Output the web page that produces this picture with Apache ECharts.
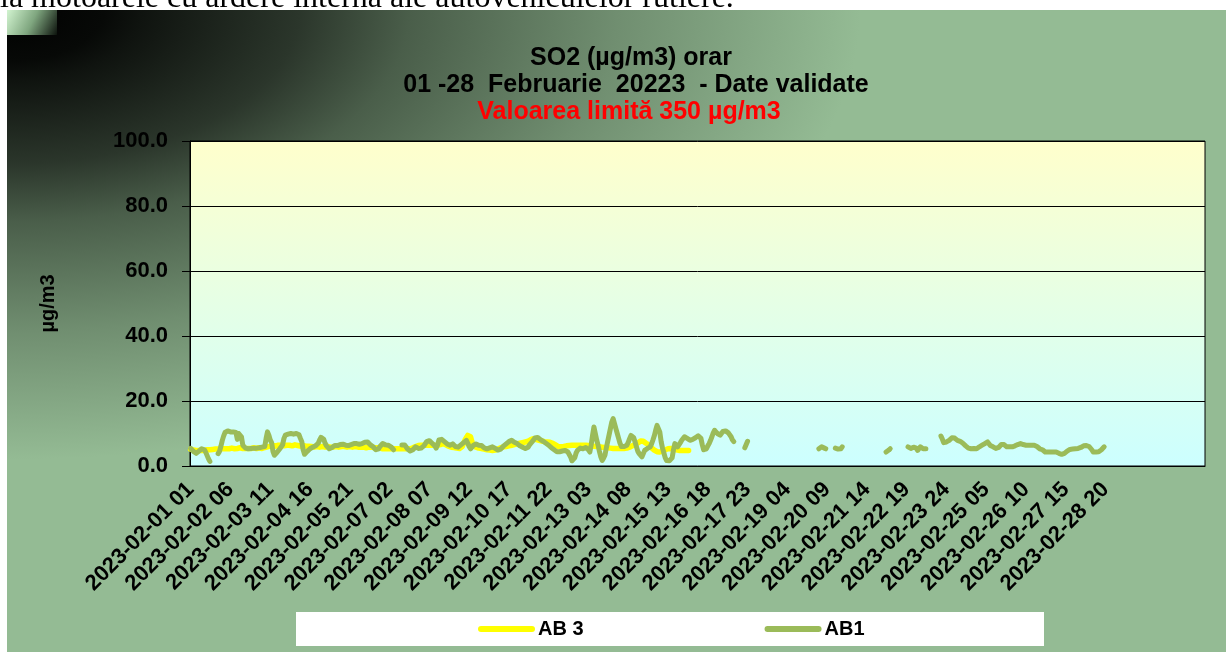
<!DOCTYPE html>
<html>
<head>
<meta charset="utf-8">
<script src="https://cdn.jsdelivr.net/npm/echarts@6/dist/echarts.min.js"></script>
<style>
html,body{margin:0;padding:0;background:#fff;}
#chart{width:1226px;height:652px;}
</style>
</head>
<body>
<div id="chart"></div>
<script>
// categorii orare 01..24 pentru 1-28 februarie 2023
var zile = 28;
var ore = 24;
var categorii = [];
for (var d = 1; d <= zile; d++) {
    for (var h = 1; h <= ore; h++) {
        categorii.push('2023-02-' + (d < 10 ? '0' + d : d) + ' ' + (h < 10 ? '0' + h : h));
    }
}
// randuri goale din foaia excel, dupa 28 februarie
for (var k = 0; k < 68; k++) categorii.push('');

var numeSerii = ['AB 3', 'AB1'];
var yTicks = [0, 20, 40, 60, 80, 100];

// AB 3 - date pana pe 16 feb
var ab3 = [
    5.2,5.0,4.9,4.8,4.8,4.7,4.8,4.9,4.8,4.7,4.8,4.9,5.0,5.1,5.0,5.0,5.1,5.2,5.2,5.3,5.2,5.3,5.3,5.2,
    5.3,5.4,5.3,5.2,5.3,5.4,5.5,5.4,5.3,5.3,5.4,5.5,5.6,5.5,5.4,5.3,5.4,5.5,5.4,5.3,5.4,5.5,5.6,5.5,
    5.4,5.5,5.6,5.5,5.4,5.5,5.7,5.8,5.9,6.0,6.1,6.2,6.3,6.2,6.1,6.3,6.4,6.5,6.4,6.3,6.2,6.3,6.4,6.5,
    6.4,6.3,6.2,6.4,6.5,6.4,6.3,6.2,6.1,6.2,6.3,6.2,6.1,6.0,6.1,6.2,6.0,5.9,5.8,5.9,6.0,5.9,5.8,5.9,
    6.0,5.9,5.8,5.9,6.0,5.9,5.8,5.7,5.8,5.9,6.0,5.9,5.8,5.9,6.0,6.1,6.0,5.9,5.8,5.9,6.0,5.9,5.8,5.9,
    6.0,5.9,5.8,5.7,5.8,5.9,5.8,5.7,5.6,5.7,5.8,5.9,5.8,5.7,5.6,5.5,5.6,5.7,5.5,5.4,5.3,5.4,5.3,5.2,
    5.3,5.2,5.3,5.4,5.3,5.2,5.3,5.4,5.3,5.2,5.3,5.4,5.3,5.2,5.3,5.4,5.3,5.4,5.6,5.8,6.0,6.2,6.3,6.4,
    6.4,6.3,6.4,6.5,6.4,6.3,6.4,6.5,6.4,6.3,6.4,6.5,6.4,6.5,6.6,6.8,6.9,6.7,6.5,6.3,6.1,5.9,5.8,5.8,
    5.7,5.6,5.5,5.4,5.4,5.5,6.0,7.0,8.0,8.6,9.4,9.9,9.0,7.5,6.4,6.0,5.8,5.6,5.5,5.4,5.4,5.3,5.2,5.1,
    5.0,4.9,4.9,4.8,4.8,4.8,4.9,5.0,5.2,5.4,5.6,5.8,5.9,5.9,6.0,6.1,6.2,6.3,6.4,6.5,6.6,6.7,6.8,6.9,
    7.0,7.1,7.2,7.3,7.4,7.4,7.6,7.8,8.1,8.4,8.4,8.3,8.1,8.0,7.9,7.8,7.7,7.6,7.5,7.4,7.4,7.4,7.3,7.2,
    7.0,6.8,6.5,6.2,6.0,5.9,5.9,6.0,6.0,6.1,6.2,6.2,6.3,6.3,6.4,6.4,6.4,6.4,6.4,6.4,6.4,6.4,6.4,6.4,
    6.4,6.3,6.3,6.2,6.2,6.1,6.1,6.0,6.0,5.9,5.9,5.8,5.8,5.7,5.7,5.6,5.6,5.5,5.5,5.4,5.4,5.4,5.4,5.4,
    5.4,5.4,5.4,5.4,5.4,5.4,5.5,5.6,5.8,6.0,6.2,6.4,6.6,6.8,7.1,7.4,7.7,7.9,7.6,7.3,7.0,6.9,6.5,6.0,
    5.6,5.2,4.9,4.6,4.4,4.3,4.3,4.4,4.6,4.8,5.0,5.2,5.3,5.4,5.4,5.3,5.2,5.1,5.0,4.9,4.8,4.8,4.8,4.8,
    4.8,4.8,4.8,4.8
];

// AB1 - cate un rand pe zi
var ab1 = [
    5.4,5.0,4.5,4.1,3.9,4.2,4.6,5.0,5.3,5.4,5.0,4.2,3.2,2.2,1.4,null,null,null,null,null,3.8,4.5,6.0,7.8,
    9.2,10.3,10.6,10.8,10.6,10.5,10.4,10.5,10.6,10.3,8.2,10.0,10.5,9.0,6.4,5.8,5.5,5.4,5.3,5.3,5.4,5.5,5.5,5.5,
    5.5,5.6,5.6,5.7,5.8,5.9,6.0,8.5,10.5,9.5,8.0,7.2,4.5,3.3,3.6,4.2,4.8,5.3,5.5,6.5,8.5,9.5,9.6,9.8,
    9.8,10.0,9.9,9.8,9.9,10.0,10.0,9.6,8.5,7.5,5.0,3.6,3.9,4.5,5.0,5.3,5.6,5.8,6.0,6.2,6.4,7.0,8.0,8.8,
    9.0,8.2,7.0,6.2,5.6,5.3,5.4,5.7,6.0,6.3,6.4,6.3,6.5,6.6,6.7,6.7,6.5,6.4,6.3,6.3,6.4,6.6,6.8,6.9,
    6.9,6.9,6.8,6.7,6.7,6.9,7.1,7.3,7.4,7.4,7.0,6.5,6.1,5.9,5.4,5.0,4.8,5.3,6.0,6.6,6.9,6.7,6.5,6.4,
    6.4,6.0,5.9,5.6,5.0,null,null,null,null,null,6.5,6.9,6.5,6.0,5.3,4.8,4.6,4.6,5.0,5.6,5.9,5.7,5.4,5.3,
    5.5,5.8,6.2,6.4,7.5,8.1,7.8,7.2,7.0,6.9,6.2,5.5,6.5,8.0,8.4,8.2,7.9,7.5,7.2,6.8,6.5,6.4,6.5,6.8,
    6.5,6.0,5.6,5.8,6.1,6.5,6.9,7.2,7.6,7.9,7.0,6.0,5.3,5.8,6.3,6.9,6.8,6.6,6.4,6.5,6.3,6.0,5.6,5.3,
    5.3,5.4,5.6,5.8,5.9,5.7,5.4,5.1,4.9,4.8,5.2,5.7,6.1,6.4,6.8,7.2,7.5,7.8,7.9,7.6,7.3,7.1,6.9,6.5,
    6.2,5.9,5.8,5.6,5.4,5.3,5.8,6.5,7.1,7.5,8.0,8.6,9.0,8.8,8.4,8.1,7.9,7.6,7.3,7.0,6.8,6.4,6.0,5.6,
    5.3,5.0,4.7,4.4,4.3,4.4,4.5,4.6,4.7,4.8,4.6,4.3,4.0,2.8,1.6,1.2,2.5,4.0,4.8,5.3,5.5,5.4,5.3,5.5,
    5.7,5.9,5.0,4.3,6.5,9.5,12.0,10.0,8.0,6.4,4.5,2.8,1.7,2.4,3.3,5.5,7.5,9.5,11.5,13.5,14.6,13.0,11.5,10.0,
    8.5,7.0,6.0,5.9,6.0,6.2,6.4,7.3,8.4,9.4,10.0,8.7,7.4,5.9,4.5,3.8,3.2,2.8,3.8,4.8,5.1,5.4,5.7,5.9,
    6.8,8.0,9.3,11.0,12.5,13.1,10.5,7.5,5.5,4.0,2.5,1.7,1.5,1.6,1.7,2.5,5.0,6.9,6.4,5.9,6.5,7.2,7.9,8.5,
    9.0,8.8,8.5,8.1,7.9,8.0,8.2,8.4,8.7,9.0,9.3,9.5,8.5,6.5,5.0,4.5,5.3,6.2,6.9,7.9,9.0,10.2,11.0,10.5,
    10.0,9.7,9.5,10.0,10.6,11.0,10.8,10.5,10.2,10.0,9.0,8.0,7.5,null,null,null,null,null,null,null,5.6,6.6,7.6,null,
    null,null,null,null,null,null,null,null,null,null,null,null,null,null,null,null,null,null,null,null,null,null,null,null,
    null,null,null,null,null,null,null,null,null,null,null,null,null,null,null,null,null,null,null,null,null,null,null,null,
    null,null,5.3,5.6,5.9,5.8,5.5,5.3,null,null,null,null,null,null,5.5,5.9,5.2,4.8,5.3,5.9,null,null,null,null,
    null,null,null,null,null,null,null,null,null,null,null,null,null,null,null,null,null,null,null,null,null,null,null,null,
    null,null,null,4.3,4.6,4.9,5.3,null,null,null,null,null,null,null,null,null,null,null,null,5.9,5.7,5.4,5.3,5.8,
    6.4,5.5,4.8,5.2,5.9,5.6,5.3,5.4,5.3,null,null,null,null,null,null,null,null,null,null,9.2,8.3,7.2,6.9,7.4,
    7.6,7.9,8.3,8.7,8.9,8.6,8.2,7.9,7.7,7.6,7.3,7.0,6.6,6.2,5.8,5.5,5.3,5.3,5.3,5.4,5.3,5.3,5.6,5.9,
    6.2,6.4,6.6,6.9,7.2,7.4,6.9,6.3,5.7,5.9,5.6,5.4,5.3,5.7,6.2,6.6,6.9,6.6,6.2,5.9,5.9,5.9,5.9,5.9,
    6.0,6.2,6.4,6.6,6.8,6.9,6.8,6.6,6.5,6.4,6.4,6.4,6.4,6.4,6.4,6.4,6.4,6.0,5.6,5.3,5.3,5.0,4.6,4.3,
    4.3,4.3,4.3,4.3,4.3,4.3,4.3,4.3,4.1,3.9,3.7,3.6,3.6,3.9,4.2,4.6,5.0,5.1,5.1,5.2,5.2,5.3,5.3,5.4,
    5.5,5.7,6.0,6.2,6.4,6.3,6.2,6.0,5.9,5.0,4.3,4.2,4.3,4.3,4.4,4.6,5.0,5.5,5.9,null,null,null,null,null
];

var font = '"Liberation Sans", Arial, sans-serif';

var chart = echarts.init(document.getElementById('chart'));
chart.setOption({
    animation: false,
    backgroundColor: '#fff',
    graphic: [
        // randul de text din document, taiat sus
        {
            type: 'text', x: 0, y: -1, z: -30, silent: true,
            style: {
                text: 'la motoarele cu ardere internă ale autovehiculelor rutiere.',
                font: '32px "Liberation Serif", "Times New Roman", serif',
                fill: '#000', verticalAlign: 'middle'
            }
        },
        // fundalul graficului (gradient din colt)
        {
            type: 'rect', x: 7, y: 10, scaleY: 642 / 1219, z: -20, silent: true,
            shape: { x: 0, y: 0, width: 1219, height: 1219 },
            style: {
                fill: new echarts.graphic.RadialGradient(0, 0, 1, [
                    { offset: 0, color: '#000000' },
                    { offset: 0.08, color: '#070907' },
                    { offset: 0.11, color: '#0f130f' },
                    { offset: 0.24, color: '#2b362b' },
                    { offset: 0.33, color: '#4a5e4a' },
                    { offset: 0.5, color: '#708e70' },
                    { offset: 0.7, color: '#94bb94' },
                    { offset: 1, color: '#94bb94' }
                ])
            }
        },
        {
            type: 'rect', x: 7, y: 10, z: -19, silent: true,
            shape: { x: 0, y: 0, width: 50, height: 25 },
            style: {
                fill: new echarts.graphic.LinearGradient(0, 0, 1, 1, [
                    { offset: 0, color: '#d2f4d0' },
                    { offset: 0.5, color: '#7fa67f' },
                    { offset: 1, color: '#0c120c' }
                ])
            }
        },
        {
            type: 'text', x: 631, y: 58, silent: true,
            style: { text: 'SO2 (µg/m3) orar', fontSize: 25, fontWeight: 'bold', fontFamily: font, fill: '#000', align: 'center', verticalAlign: 'middle' }
        },
        {
            type: 'text', x: 636, y: 85, silent: true,
            style: { text: '01 -28  Februarie  20223  - Date validate', fontSize: 25, fontWeight: 'bold', fontFamily: font, fill: '#000', align: 'center', verticalAlign: 'middle' }
        },
        {
            type: 'text', x: 629, y: 112, silent: true,
            style: { text: 'Valoarea limită 350 µg/m3', fontSize: 25, fontWeight: 'bold', fontFamily: font, fill: '#ff0000', align: 'center', verticalAlign: 'middle' }
        },
        // caseta alba a legendei
        {
            type: 'rect', x: 296, y: 612, z: -5, silent: true,
            shape: { width: 748, height: 34 },
            style: { fill: '#fff' }
        }
    ],
    legend: {
        data: numeSerii,
        left: 478,
        top: 619,
        padding: 0,
        itemWidth: 57,
        itemHeight: 6,
        itemGap: 181,
        icon: 'path://M3 0H54A3 3 0 0 1 54 6H3A3 3 0 0 1 3 0Z',
        itemStyle: { borderWidth: 0 },
        textStyle: { fontSize: 20, fontWeight: 'bold', color: '#000', fontFamily: font, padding: [0, 0, 0, -2] }
    },
    grid: {
        left: 190,
        top: 141,
        right: 21,
        bottom: 186,
        show: true,
        borderColor: '#000',
        borderWidth: 1,
        backgroundColor: new echarts.graphic.LinearGradient(0, 0, 0, 1, [
            { offset: 0, color: '#ffffcc' },
            { offset: 1, color: '#ccffff' }
        ])
    },
    xAxis: {
        type: 'category',
        data: categorii,
        boundaryGap: true,
        axisLine: { show: true, lineStyle: { color: '#000', width: 1 } },
        axisTick: { show: false },
        splitLine: { show: false },
        axisLabel: {
            interval: 28,
            rotate: 45,
            margin: 20,
            color: '#000',
            fontSize: 22,
            fontWeight: 'bold',
            fontFamily: font
        }
    },
    yAxis: {
        type: 'value',
        min: yTicks[0],
        max: yTicks[yTicks.length - 1],
        interval: 20,
        name: 'µg/m3',
        nameLocation: 'middle',
        nameGap: 132,
        nameRotate: 90,
        nameTextStyle: { fontSize: 20, fontWeight: 'bold', color: '#000', fontFamily: font },
        axisLine: { show: true, lineStyle: { color: '#000', width: 1 } },
        axisTick: { show: true, inside: false, length: 8, lineStyle: { color: '#000' } },
        splitLine: { show: true, lineStyle: { color: '#000', width: 1 } },
        axisLabel: {
            margin: 22,
            color: '#000',
            fontSize: 22,
            fontWeight: 'bold',
            fontFamily: font,
            formatter: function (v) { return v.toFixed(1); }
        }
    },
    series: [
        {
            name: numeSerii[0],
            type: 'line',
            data: ab3,
            symbol: 'none',
            connectNulls: false,
            color: '#ffff00',
            lineStyle: { color: '#ffff00', width: 5.5, cap: 'round', join: 'round' }
        },
        {
            name: numeSerii[1],
            type: 'line',
            data: ab1,
            symbol: 'none',
            connectNulls: false,
            color: '#9bbb59',
            lineStyle: { color: '#9bbb59', width: 5, cap: 'round', join: 'round' }
        }
    ]
});
window.addEventListener('resize', function () { chart.resize(); });
</script>
</body>
</html>
